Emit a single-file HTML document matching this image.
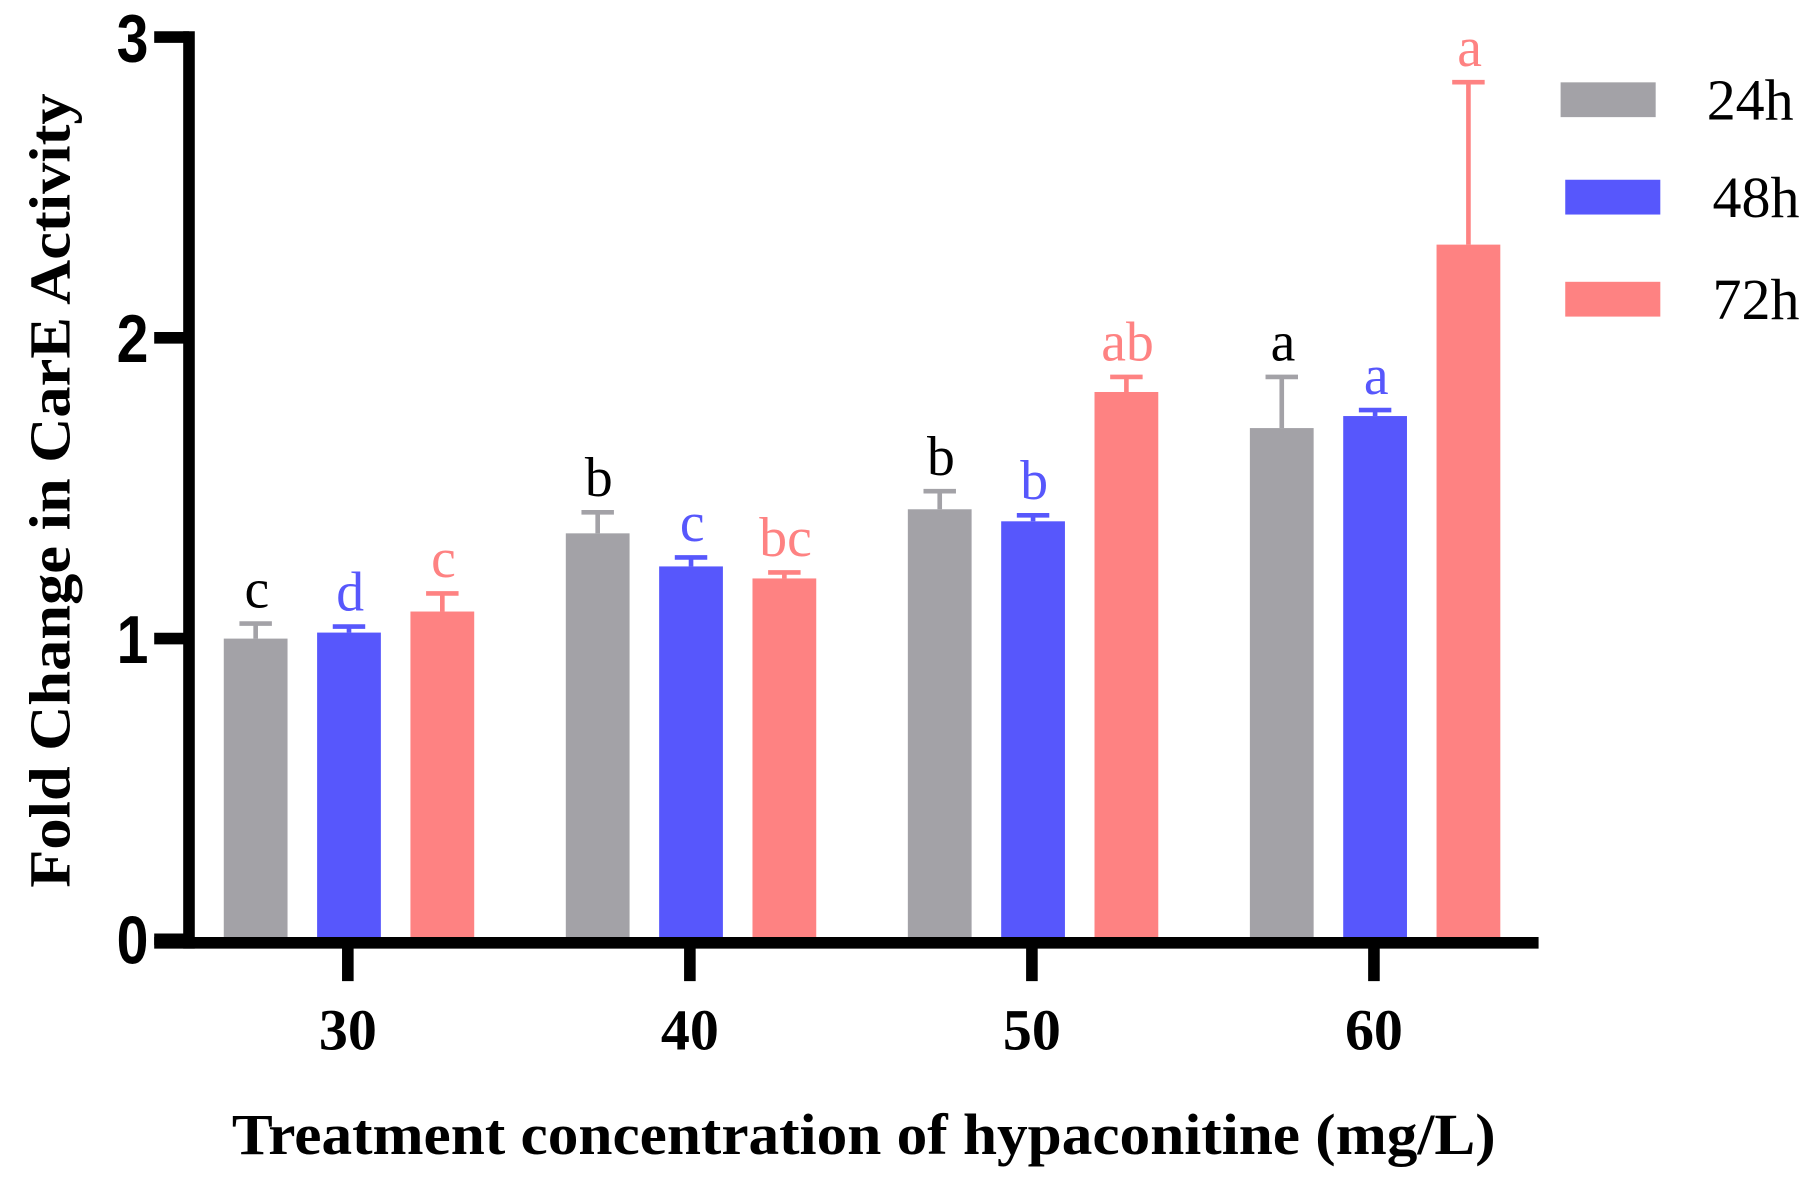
<!DOCTYPE html>
<html><head><meta charset="utf-8"><style>
html,body{margin:0;padding:0;background:#fff}
svg{display:block}
</style></head><body>
<svg id="chart" width="1818" height="1191" viewBox="0 0 1568 1027" preserveAspectRatio="none" xmlns="http://www.w3.org/2000/svg">
<g id="marks"></g>
<g id="axes"></g>
<text transform="translate(60,423) rotate(-90)" text-anchor="middle" font-family="Liberation Serif, serif" font-weight="bold" font-size="50" textLength="685" lengthAdjust="spacingAndGlyphs">Fold Change in CarE Activity</text>
<text x="745" y="995" text-anchor="middle" font-family="Liberation Serif, serif" font-weight="bold" font-size="50" textLength="1090" lengthAdjust="spacingAndGlyphs">Treatment concentration of hypaconitine (mg/L)</text>
<g id="legend"></g>
</svg>
<script>
const categories = ["30","40","50","60"];
const seriesNames = ["24h","48h","72h"];
const colors = ["#a3a2a7","#5757fc","#fe8282"];
const textColors = ["#000000","#5757fc","#fe8282"];
const values24 = [1.0, 1.35, 1.43, 1.70];
const values48 = [1.02, 1.24, 1.39, 1.74];
const values72 = [1.09, 1.20, 1.82, 2.31];
const err24 = [0.05, 0.07, 0.06, 0.17];
const err48 = [0.02, 0.03, 0.02, 0.02];
const err72 = [0.06, 0.02, 0.05, 0.54];
const letters24 = ["c","b","b","a"];
const letters48 = ["d","c","b","a"];
const letters72 = ["c","bc","ab","a"];
const yTicks = [0,1,2,3];

const NS="http://www.w3.org/2000/svg";
const y0=810, yTop=32, yMax=3;
function yScale(v){return y0-(y0-yTop)*v/yMax;}
function groupCenter(i){return 301+i*295;}
function barCenter(i,s){return groupCenter(i)+(s-1)*80.5;}
const barW=55;
function mk(tag,attrs,parent){const e=document.createElementNS(NS,tag);for(const k in attrs)e.setAttribute(k,attrs[k]);parent.appendChild(e);return e;}
const marks=document.getElementById('marks');
const vals=[values24,values48,values72], errs=[err24,err48,err72], lets=[letters24,letters48,letters72];
for(let s=0;s<3;s++){
  for(let i=0;i<categories.length;i++){
    const cx=barCenter(i,s), v=vals[s][i], top=yScale(v), et=yScale(v+errs[s][i]);
    const r=mk('rect',{x:cx-barW/2,y:top,width:barW,height:y0-top,fill:colors[s]},marks);
    
    
    const l=mk('line',{x1:cx,x2:cx,y1:top,y2:et,stroke:colors[s],'stroke-width':4},marks);
    
    
    const c=mk('line',{x1:cx-14,x2:cx+14,y1:et,y2:et,stroke:colors[s],'stroke-width':4},marks);
    
    
    const t=mk('text',{x:cx+1,y:et-14,'text-anchor':'middle','font-family':'Liberation Serif, serif','font-size':48,fill:textColors[s]},marks);
    
    
    t.textContent=lets[s][i];
  }
}
const axes=document.getElementById('axes');
let e=mk('line',{x1:163,x2:163,y1:yTop-5,y2:y0+8,stroke:'#000','stroke-width':10},axes);


e=mk('line',{x1:133,x2:1327,y1:y0+3,y2:y0+3,stroke:'#000','stroke-width':10},axes);


yTicks.forEach(v=>{
  const y=yScale(v);
  let t=mk('line',{x1:133,x2:163,y1:y,y2:y,stroke:'#000','stroke-width':10},axes);
  
  
  let tx=mk('text',{x:128/0.85,y:y+21,'text-anchor':'end','font-family':'Liberation Sans, sans-serif','font-weight':'bold','font-size':58,transform:'scale(0.85,1)'},axes);
  
  
  tx.textContent=String(v);
});
categories.forEach((c,i)=>{
  const x=groupCenter(i)-1;
  let t=mk('line',{x1:x,x2:x,y1:y0,y2:846,stroke:'#000','stroke-width':10},axes);
  
  
  let tx=mk('text',{x:x,y:905,'text-anchor':'middle','font-family':'Liberation Serif, serif','font-weight':'bold','font-size':50},axes);
  
  
  tx.textContent=c;
});
const legend=document.getElementById('legend');
const legY=[86,170,258];
seriesNames.forEach((n,s)=>{
  let r=mk('rect',{x:1346+(s?4:0),y:legY[s]-15,width:82,height:30,fill:colors[s]},legend);
  
  
  let t=mk('text',{x:1472+(s?5:0),y:legY[s]+17,'font-family':'Liberation Serif, serif','font-size':50},legend);
  
  
  t.textContent=n;
});
</script>
</body></html>
